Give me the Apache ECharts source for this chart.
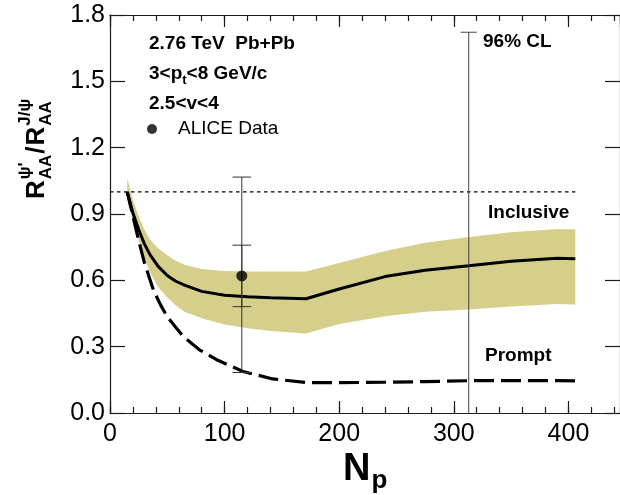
<!DOCTYPE html>
<html>
<head>
<meta charset="utf-8">
<script src="https://cdn.jsdelivr.net/npm/echarts@6/dist/echarts.min.js"></script>
<style>
  html, body { margin: 0; padding: 0; background: #fff; }
  #chart { width: 620px; height: 495px; }
</style>
</head>
<body>
<div id="chart"></div>
<script>
// Inclusive psi(2S)/J/psi ratio: central curve and uncertainty band vs N_part
const inclNp   = [15, 20, 25, 30, 35, 42, 50, 57, 65, 80, 100, 120, 140, 171, 200, 240, 275, 313, 350, 390, 406];
const inclMid  = [1.00, 0.905, 0.830, 0.765, 0.715, 0.663, 0.622, 0.597, 0.578, 0.550, 0.533, 0.526, 0.521, 0.517, 0.561, 0.617, 0.646, 0.666, 0.686, 0.700, 0.698];
const inclHigh = [1.062, 0.965, 0.890, 0.830, 0.784, 0.745, 0.714, 0.690, 0.670, 0.651, 0.642, 0.640, 0.640, 0.640, 0.678, 0.733, 0.770, 0.796, 0.817, 0.832, 0.830];
const inclLow  = [0.970, 0.870, 0.780, 0.700, 0.635, 0.570, 0.522, 0.488, 0.458, 0.428, 0.400, 0.383, 0.371, 0.359, 0.403, 0.438, 0.458, 0.468, 0.482, 0.493, 0.491];

// Prompt ratio
const promptNp  = [15, 20, 25, 30, 38, 44, 50, 57, 64, 78, 93, 116, 142, 171, 200, 240, 275, 313, 350, 390, 406];
const promptVal = [1.00, 0.89, 0.78, 0.68, 0.555, 0.49, 0.435, 0.39, 0.345, 0.286, 0.241, 0.188, 0.154, 0.138, 0.137, 0.139, 0.142, 0.146, 0.147, 0.146, 0.145];

// ALICE measurement with statistical and systematic ranges
const aliceNp     = [115];
const aliceVal    = [0.62];
const aliceStatLo = [0.183];
const aliceStatHi = [1.067];
const aliceSysLo  = [0.481];
const aliceSysHi  = [0.759];

// 96% confidence-level limit
const clNp = [313];
const clLo = [0];
const clHi = [1.722];

// Unity reference line
const unityNp  = [0, 406];
const unityVal = [1, 1];

// Axis ranges
const xRange = [0, 445];
const yRange = [0, 1.8];
const xMajor = 100, xMinor = 20, yMajor = 0.3;

const FONT = '"Liberation Sans", Arial, Helvetica, sans-serif';
const chart = echarts.init(document.getElementById('chart'), null, { renderer: 'canvas' });

const mctx = document.createElement('canvas').getContext('2d');
function textWidth(str, size, bold) {
  mctx.font = (bold ? 'bold ' : '') + size + 'px ' + FONT;
  return mctx.measureText(str).width;
}
// text element positioned by its alphabetic baseline
function txt(str, x, baseline, size, bold, extra) {
  return Object.assign({
    type: 'text', x: x, y: baseline - 0.3465 * size,
    style: {
      text: str, fill: '#000',
      font: (bold ? 'bold ' : '') + size + 'px ' + FONT,
      align: 'left', verticalAlign: 'middle'
    }
  }, extra || {});
}

function pairs(xs, ys) { return xs.map((x, i) => [x, ys[i]]); }

function errorBarSeries(xs, lo, hi, color, capHalf, bottomCap, z) {
  return {
    type: 'custom', xAxisIndex: 0, yAxisIndex: 0, z: z, silent: true,
    data: xs.map((x, i) => [x, lo[i], hi[i]]),
    encode: { x: 0, y: [1, 2] },
    renderItem: function (params, api) {
      const x = api.value(0);
      const pLo = api.coord([x, api.value(1)]);
      const pHi = api.coord([x, api.value(2)]);
      const st = { stroke: color, lineWidth: 1 };
      const kids = [
        { type: 'line', shape: { x1: pLo[0], y1: pLo[1], x2: pHi[0], y2: pHi[1] }, style: st },
        { type: 'line', shape: { x1: pHi[0] - capHalf, y1: pHi[1], x2: pHi[0] + capHalf, y2: pHi[1] }, style: st }
      ];
      if (bottomCap) {
        kids.push({ type: 'line', shape: { x1: pLo[0] - capHalf, y1: pLo[1], x2: pLo[0] + capHalf, y2: pLo[1] }, style: st });
      }
      return { type: 'group', children: kids };
    }
  };
}

const axisLineStyle = { color: '#1a1a1a', width: 1.2 };

function xAxisCfg(position, interval, tickLen, showLine, showLabel) {
  return {
    type: 'value', position: position, min: xRange[0], max: xRange[1], interval: interval,
    axisLine: { show: showLine, onZero: false, lineStyle: axisLineStyle },
    axisTick: { show: true, inside: true, length: tickLen, lineStyle: axisLineStyle },
    splitLine: { show: false },
    axisLabel: {
      show: showLabel, fontSize: 25, color: '#000', fontFamily: FONT, margin: 9,
      showMaxLabel: false
    }
  };
}
function yAxisCfg(position, showLabel) {
  return {
    type: 'value', position: position, min: yRange[0], max: yRange[1], interval: yMajor,
    axisLine: { show: true, onZero: false, lineStyle: axisLineStyle },
    axisTick: { show: true, inside: true, length: 15, lineStyle: axisLineStyle },
    splitLine: { show: false },
    axisLabel: {
      show: showLabel, fontSize: 25, color: '#000', fontFamily: FONT, margin: 5,
      formatter: v => v.toFixed(1)
    }
  };
}

// Axis titles and annotations
const graphics = [];

// y-axis title: R_AA^psi' / R_AA^J/psi, read bottom-to-top
(function () {
  const big = 26, small = 17;
  const wR = textWidth('R', big, true);
  const wAA = textWidth('AA', small, true);
  const wPsi = textWidth("ψ'", small, true);
  const wSl = textWidth('/', big, true);
  let x = 0;
  const kids = [];
  kids.push(txt('R', x, 0, big, true)); x += wR + 1;
  kids.push(txt('AA', x, 6, small, true));
  kids.push(txt("ψ'", x, -15, small, true));
  x += Math.max(wAA, wPsi) + 1;
  kids.push(txt('/', x, 0, big, true)); x += wSl + 1;
  kids.push(txt('R', x, 0, big, true)); x += wR + 1;
  kids.push(txt('AA', x, 6, small, true));
  kids.push(txt('J/ψ', x, -15, small, true));
  graphics.push({ type: 'group', x: 46, y: 199, rotation: Math.PI / 2, children: kids });
})();

// x-axis title: N_p
(function () {
  const wN = textWidth('N', 38, true);
  graphics.push(txt('N', 343, 483, 38, true));
  graphics.push(txt('p', 343 + wN + 1, 490, 26, true));
})();

// collision system and kinematic range
(function () {
  const x0 = 149;
  graphics.push(txt('2.76 TeV  Pb+Pb', x0, 50, 19, true));
  const w1 = textWidth('3<p', 19, true);
  const wt = textWidth('t', 13, true);
  graphics.push(txt('3<p', x0, 80, 19, true));
  graphics.push(txt('t', x0 + w1, 85, 13, true));
  graphics.push(txt('<8 GeV/c', x0 + w1 + wt, 80, 19, true));
  graphics.push(txt('2.5<v<4', x0, 110, 19, true));
})();

graphics.push(txt('96% CL', 483, 48, 19, true));
graphics.push(txt('Inclusive', 488, 219, 19, true));
graphics.push(txt('Prompt', 485, 362, 19, true));

const option = {
  backgroundColor: '#fff',
  animation: false,
  textStyle: { fontFamily: FONT },
  grid: { left: 110, top: 15, width: 512, height: 398, containLabel: false },
  legend: {
    show: true, left: 147, top: 119.5, padding: 0, selectedMode: false,
    itemWidth: 10, itemHeight: 10,
    data: [{ name: 'ALICE Data', icon: 'circle' }],
    textStyle: { fontSize: 19, color: '#000', fontFamily: FONT, padding: [12, 0, 0, 16] }
  },
  xAxis: [
    xAxisCfg('bottom', xMajor, 12, true, true),
    xAxisCfg('top', xMajor, 12, true, false),
    xAxisCfg('bottom', xMinor, 6, false, false),
    xAxisCfg('top', xMinor, 6, false, false)
  ],
  yAxis: [
    yAxisCfg('left', true),
    yAxisCfg('right', false)
  ],
  graphic: graphics,
  series: [
    {
      name: 'Inclusive band', type: 'custom', z: 1, silent: true,
      xAxisIndex: 0, yAxisIndex: 0,
      data: [[inclNp[0], inclMid[0]]],
      renderItem: function (params, api) {
        const pts = [];
        for (let i = 0; i < inclNp.length; i++) pts.push(api.coord([inclNp[i], inclHigh[i]]));
        for (let i = inclNp.length - 1; i >= 0; i--) pts.push(api.coord([inclNp[i], inclLow[i]]));
        return { type: 'polygon', shape: { points: pts }, style: { fill: '#d5cf8b', stroke: null } };
      }
    },
    {
      name: 'Unity', type: 'line', z: 2, silent: true, showSymbol: false,
      data: pairs(unityNp, unityVal),
      lineStyle: { color: '#000', width: 1.4, type: [3.5, 3.5] }
    },
    {
      name: 'Inclusive', type: 'line', z: 3, silent: true, showSymbol: false,
      data: pairs(inclNp, inclMid),
      lineStyle: { color: '#000', width: 3 }
    },
    {
      name: 'Prompt', type: 'line', z: 3, silent: true, showSymbol: false,
      data: pairs(promptNp, promptVal),
      lineStyle: { color: '#000', width: 3.2, type: [20, 7] }
    },
    errorBarSeries(clNp, clLo, clHi, '#444', 8, false, 4),
    errorBarSeries(aliceNp, aliceStatLo, aliceStatHi, '#333', 9.3, true, 5),
    errorBarSeries(aliceNp, aliceSysLo, aliceSysHi, '#333', 9.3, true, 5),
    {
      name: 'ALICE Data', type: 'scatter', z: 6, silent: true,
      data: pairs(aliceNp, aliceVal),
      symbol: 'circle', symbolSize: 11,
      itemStyle: { color: '#000' }
    }
  ]
};
chart.setOption(option);
</script>
</body>
</html>
